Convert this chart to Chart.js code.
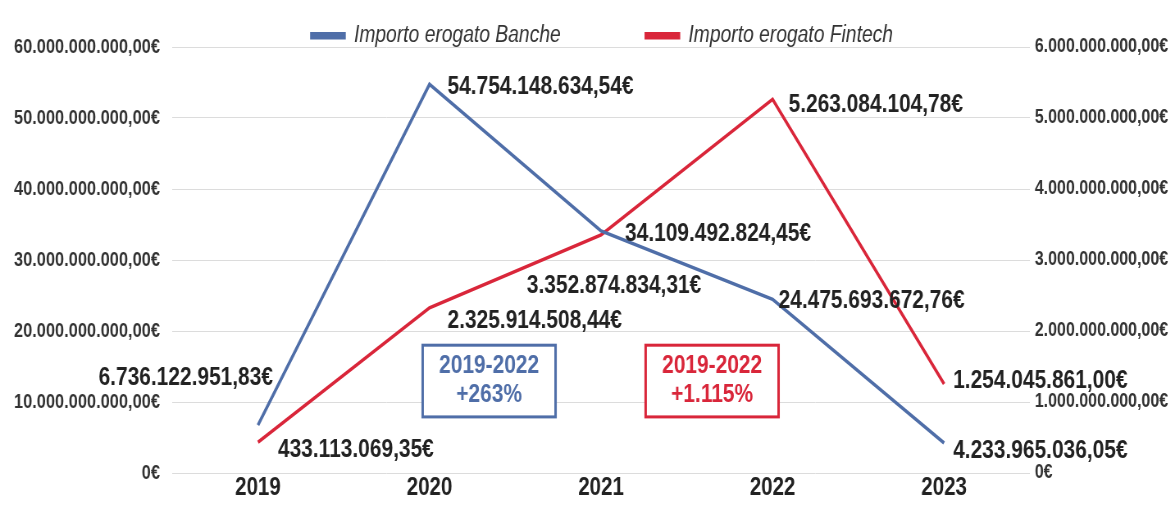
<!DOCTYPE html>
<html>
<head>
<meta charset="utf-8">
<script src="https://cdn.jsdelivr.net/npm/chart.js@4"></script>
<style>
  html, body { margin: 0; padding: 0; background: #fff; overflow: hidden; }
  /* the source uses a narrow face: draw wide, show at 82% width (Arial -> Arial Narrow) */
  #chart { width: 1175px; height: 506px; display: block; }
</style>
</head>
<body>
<canvas id="chart" width="1433" height="506" style="width:1175px;height:506px"></canvas>
<script>
const years = ['2019', '2020', '2021', '2022', '2023'];
const banche = [6736122951.83, 54754148634.54, 34109492824.45, 24475693672.76, 4233965036.05];
const fintech = [433113069.35, 2325914508.44, 3352874834.31, 5263084104.78, 1254045861.00];
const leftTicks = ['0€', '10.000.000.000,00€', '20.000.000.000,00€', '30.000.000.000,00€', '40.000.000.000,00€', '50.000.000.000,00€', '60.000.000.000,00€'];
const rightTicks = ['0€', '1.000.000.000,00€', '2.000.000.000,00€', '3.000.000.000,00€', '4.000.000.000,00€', '5.000.000.000,00€', '6.000.000.000,00€'];
const boxTexts = [['2019-2022', '+263%'], ['2019-2022', '+1.115%']];

const SX = 0.82;
const BLUE = '#4f6ea8';
const RED = '#d9263a';
const FONT = '"Liberation Sans", Arial, sans-serif';

// where each value label sits relative to its point (screen px): [dx, dy, align]
const labelPlace = [
    [[15, -47, 'right'], [18, 3, 'left'], [24, 3, 'left'], [6, 2, 'left'], [9, 8, 'left']],
    [[20, 8, 'left'], [18, 13, 'left'], [13, 51, 'center'], [16, 6, 'left'], [9, -3, 'left']]
];

// boxes in axis units: x as category index, y on left axis
const boxPlace = [
    { x0: 0.96, x1: 1.735, y0: 18.0e9, y1: 7.9e9, color: BLUE },
    { x0: 2.26, x1: 3.035, y0: 18.0e9, y1: 7.9e9, color: RED }
];

const fmt = new Intl.NumberFormat('it-IT', { minimumFractionDigits: 2, maximumFractionDigits: 2 });

const valueLabels = {
    id: 'valueLabels',
    afterDatasetsDraw(chart) {
        const ctx = chart.ctx;
        ctx.save();
        ctx.font = 'bold 25.5px ' + FONT;
        ctx.fillStyle = '#222';
        ctx.textBaseline = 'middle';
        chart.data.datasets.forEach((ds, di) => {
            const meta = chart.getDatasetMeta(di);
            meta.data.forEach((pt, i) => {
                const p = labelPlace[di][i];
                ctx.textAlign = p[2];
                ctx.fillText(fmt.format(ds.data[i]) + '€', pt.x + p[0] / SX, pt.y + p[1]);
            });
        });
        ctx.restore();
    }
};

const noteBoxes = {
    id: 'noteBoxes',
    afterDatasetsDraw(chart) {
        const ctx = chart.ctx;
        const xs = chart.scales.x, ys = chart.scales.y;
        ctx.save();
        boxPlace.forEach((b, i) => {
            const l = xs.getPixelForValue(b.x0), r = xs.getPixelForValue(b.x1);
            const t = ys.getPixelForValue(b.y0), bt = ys.getPixelForValue(b.y1);
            ctx.fillStyle = '#fff';
            ctx.fillRect(l, t, r - l, bt - t);
            ctx.strokeStyle = b.color;
            ctx.lineWidth = 3;
            ctx.strokeRect(l, t, r - l, bt - t);
            ctx.fillStyle = b.color;
            ctx.font = 'bold 25.5px ' + FONT;
            ctx.textAlign = 'center';
            ctx.textBaseline = 'middle';
            const cx = (l + r) / 2, cy = (t + bt) / 2;
            ctx.fillText(boxTexts[i][0], cx, cy - 15);
            ctx.fillText(boxTexts[i][1], cx, cy + 14);
        });
        ctx.restore();
    }
};

const chart = new Chart(document.getElementById('chart').getContext('2d'), {
    type: 'line',
    data: {
        labels: years,
        datasets: [{
            label: 'Importo erogato Banche',
            data: banche,
            yAxisID: 'y',
            borderColor: BLUE,
            backgroundColor: BLUE,
            borderWidth: 3.5,
            pointRadius: 0,
            tension: 0
        }, {
            label: 'Importo erogato Fintech',
            data: fintech,
            yAxisID: 'y1',
            borderColor: RED,
            backgroundColor: RED,
            borderWidth: 3.5,
            pointRadius: 0,
            tension: 0
        }]
    },
    options: {
        responsive: false,
        animation: false,
        devicePixelRatio: 1,
        // negative top/right padding only moves the legend; axis widths are fixed below
        layout: { padding: { top: -80, left: 0, right: -36, bottom: 2 } },
        plugins: {
            legend: {
                position: 'top',
                maxHeight: 127,
                labels: {
                    boxWidth: 40,
                    boxHeight: 4,
                    padding: 104,
                    color: '#333',
                    font: { family: FONT, size: 23.5, style: 'italic' }
                }
            },
            tooltip: { enabled: false }
        },
        scales: {
            x: {
                offset: true,
                grid: { display: false, drawTicks: false },
                border: { display: false },
                ticks: {
                    padding: 3,
                    color: '#222',
                    font: { family: FONT, size: 25, weight: 'bold', lineHeight: 1 }
                }
            },
            y: {
                position: 'left',
                min: 0,
                max: 60e9,
                afterFit: (axis) => { axis.width = 210; },
                grid: { color: '#dcdcdc', drawTicks: false },
                border: { display: false },
                ticks: {
                    stepSize: 10e9,
                    padding: 15,
                    color: '#333',
                    font: { family: FONT, size: 20, weight: 'bold' },
                    callback: (v, i) => leftTicks[i]
                }
            },
            y1: {
                position: 'right',
                min: 0,
                max: 6e9,
                afterFit: (axis) => { axis.width = 213; },
                grid: { drawOnChartArea: false, drawTicks: false },
                border: { display: false },
                ticks: {
                    stepSize: 1e9,
                    padding: 6,
                    color: '#333',
                    font: { family: FONT, size: 19.5, weight: 'bold' },
                    callback: (v, i) => rightTicks[i]
                }
            }
        }
    },
    plugins: [noteBoxes, valueLabels]
});
</script>
</body>
</html>
